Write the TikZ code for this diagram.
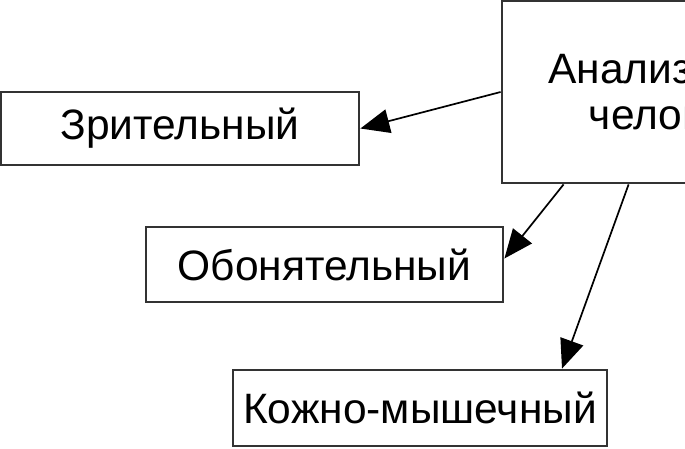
\documentclass[tikz,border=0pt]{standalone}
\usepackage{fontspec}
\setmainfont{Liberation Sans}
\usepackage{xcolor}
\usepackage{tikz}
\usetikzlibrary{arrows.meta}
\definecolor{edge}{HTML}{333333}
\begin{document}
\begin{tikzpicture}[x=1pt,y=-1pt,
          box/.style={draw=edge,line width=2.8pt,fill=white,inner sep=0pt,
            font=\fontsize{42.5}{46}\selectfont,align=center},
          link/.style={draw=black,line width=1.7pt,
            -{Triangle[length=29pt,width=24pt]}}
        ]
        \clip (0,0) rectangle (685,448);
        \node [box,minimum width=356pt,minimum height=182pt] (analyz) at (680,92) {Анализаторы\\человека};
        \node [box,minimum width=358pt,minimum height=73pt] (zrit) at (180,128.5) {Зрительный};
        \node [box,minimum width=357pt,minimum height=75pt] (obon) at (324.5,264.5) {Обонятельный};
        \node [box,minimum width=374pt,minimum height=76pt] (kozh) at (420,408) {Кожно-мышечный};
        \draw [link] (analyz.west) -- (zrit.east);
        \draw [link] ([xshift=63pt]analyz.south west) -- ([yshift=6pt]obon.east);
        \draw [link] ([xshift=128pt]analyz.south west) -- ([xshift=142pt]kozh.north);
    \end{tikzpicture}
\end{document}
